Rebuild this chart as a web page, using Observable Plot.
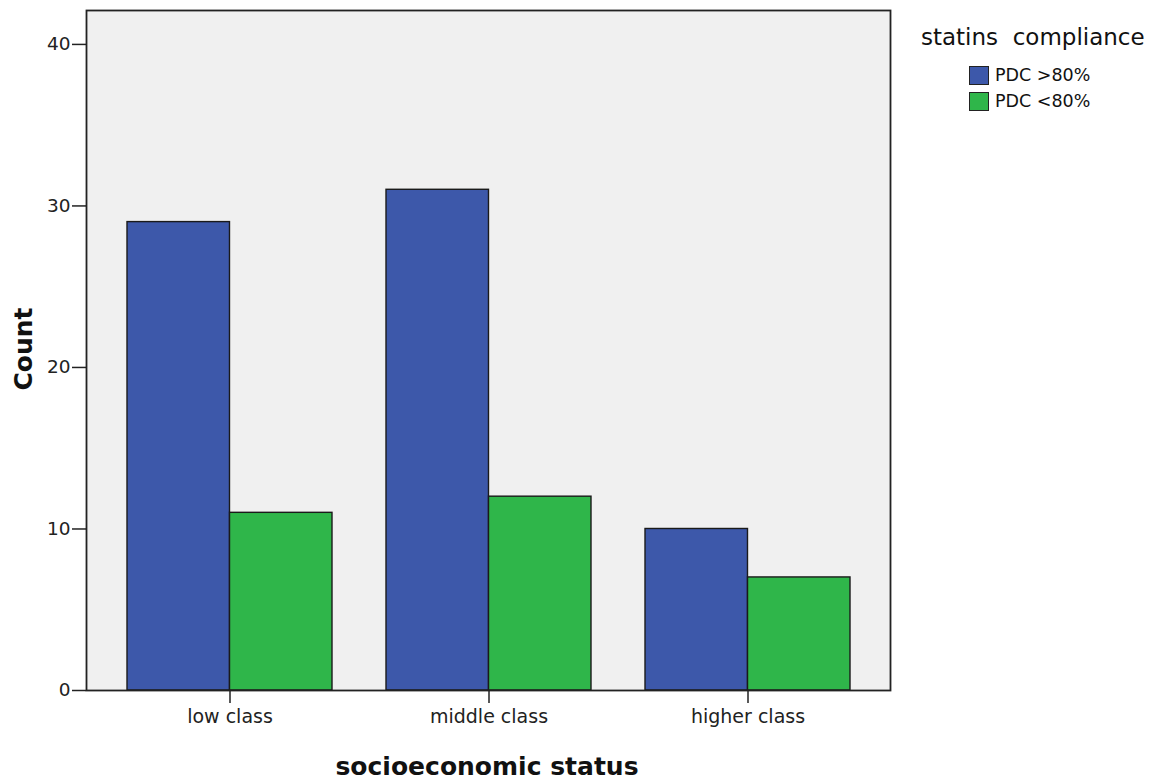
<!DOCTYPE html>
<html>
<head>
<meta charset="utf-8">
<script src="https://cdn.jsdelivr.net/npm/d3@7"></script>
<script src="https://cdn.jsdelivr.net/npm/@observablehq/plot@0.6"></script>
<style>
  html, body { margin: 0; padding: 0; background: #fff; }
  #wrap { position: relative; width: 1153px; height: 781px; font-family: "DejaVu Sans", Verdana, sans-serif; }
  #wrap svg { position: absolute; left: 0; top: 0; }
  .ylab { position: absolute; left: 23px; top: 349px; transform: translate(-50%, -50%) rotate(-90deg); font-weight: bold; font-size: 25px; color: #111; white-space: nowrap; }
  .xlab { position: absolute; left: 487px; top: 766px; transform: translate(-50%, -50%); font-weight: bold; font-size: 25px; color: #111; white-space: nowrap; }
  .legend { position: absolute; left: 921px; top: 24px; color: #111; }
  .legend .title { font-size: 23px; white-space: pre; }
  .legend .item { position: relative; left: 48px; height: 26px; font-size: 17.5px; display: flex; align-items: center; }
  .legend .sw { width: 20px; height: 19px; border: 1px solid #222; margin-right: 6px; box-sizing: border-box; }
</style>
</head>
<body>
<div id="wrap"></div>
<script>
const categories = ["low class", "middle class", "higher class"];
const series = ["PDC >80%", "PDC <80%"];
const valuesAbove80 = [29, 31, 10];
const valuesBelow80 = [11, 12, 7];
const yTicks = [0, 10, 20, 30, 40];
const colors = ["#3d58aa", "#2fb64a"];

const W = 1153, H = 781, mL = 86, mR = 263, mT = 10, mB = 91;
const padIn = 0.21, padOut = 0.154;
// half of one category band, so each series takes one half of the band
const halfBand = d3.scaleBand(categories, [mL, W - mR]).paddingInner(padIn).paddingOuter(padOut).bandwidth() / 2;

const rowsA = categories.map((c, i) => ({category: c, series: series[0], count: valuesAbove80[i]}));
const rowsB = categories.map((c, i) => ({category: c, series: series[1], count: valuesBelow80[i]}));

const plot = Plot.plot({
  width: W,
  height: H,
  marginLeft: mL,
  marginRight: mR,
  marginTop: mT,
  marginBottom: mB,
  style: {fontFamily: "'DejaVu Sans', Verdana, sans-serif", fontSize: "19px", color: "#222", background: "transparent"},
  x: {domain: categories, paddingInner: padIn, paddingOuter: padOut},
  y: {domain: [0, 42.1]},
  color: {domain: series, range: colors},
  marks: [
    Plot.frame({fill: "#f0f0f0"}),
    Plot.barY(rowsA, {x: "category", y: "count", fill: "series", stroke: "#1a1a1a", strokeWidth: 1.4, insetLeft: 0, insetRight: halfBand}),
    Plot.barY(rowsB, {x: "category", y: "count", fill: "series", stroke: "#1a1a1a", strokeWidth: 1.4, insetLeft: halfBand, insetRight: 0}),
    Plot.axisY({ticks: yTicks, tickSize: 14, tickPadding: 2, label: null, fontSize: 18.5, stroke: "#222", strokeWidth: 1.5}),
    Plot.axisX({tickSize: 13, tickPadding: 6, label: null, fontSize: 19, stroke: "#222", strokeWidth: 1.5}),
    Plot.frame({stroke: "#222", strokeWidth: 1.8})
  ]
});
const wrap = document.getElementById("wrap");
wrap.appendChild(plot);

const yl = document.createElement("div"); yl.className = "ylab"; yl.textContent = "Count"; wrap.appendChild(yl);
const xl = document.createElement("div"); xl.className = "xlab"; xl.textContent = "socioeconomic status"; wrap.appendChild(xl);

const lg = document.createElement("div"); lg.className = "legend";
const t = document.createElement("div"); t.className = "title"; t.textContent = "statins  compliance"; lg.appendChild(t);
const sp = document.createElement("div"); sp.style.height = "12px"; lg.appendChild(sp);
series.forEach((s, i) => {
  const it = document.createElement("div"); it.className = "item";
  const sw = document.createElement("div"); sw.className = "sw"; sw.style.background = colors[i];
  const tx = document.createElement("span"); tx.textContent = s;
  it.appendChild(sw); it.appendChild(tx); lg.appendChild(it);
});
wrap.appendChild(lg);
</script>
</body>
</html>
